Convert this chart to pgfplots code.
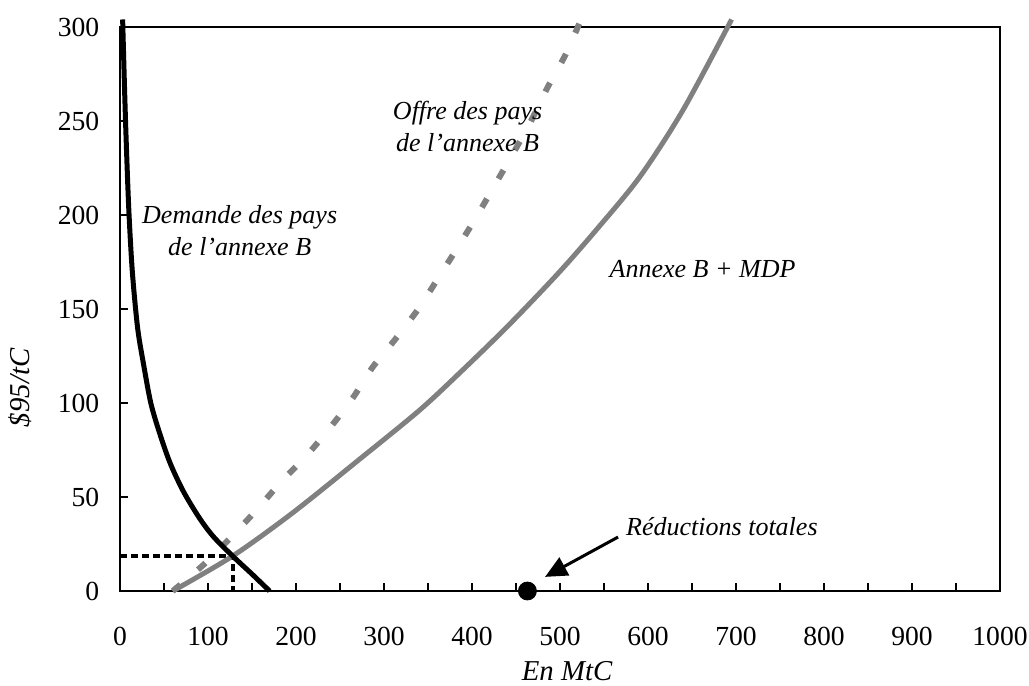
\documentclass[border=0pt]{standalone}
\usepackage{fontspec}
\setmainfont{Liberation Serif}
\usepackage{pgfplots}
\pgfplotsset{compat=1.18}
\usetikzlibrary{arrows.meta}
\definecolor{lgray}{RGB}{128,128,128}
\begin{document}
\fontsize{14}{17}\selectfont
\begin{tikzpicture}
\useasboundingbox (-60pt,-47.5pt) rectangle (454.5pt,295.5pt);
\begin{axis}[
  at={(0pt,0pt)}, anchor=south west,
  scale only axis, width=440pt, height=282pt,
  xmin=0, xmax=1000, ymin=0, ymax=300,
  clip=false,
  axis line style={line width=1.3pt},
  xtick={0,100,...,1000}, minor xtick={50,150,...,950},
  ytick={0,50,...,300},
  xtick pos=lower, ytick pos=left,
  tick align=inside, major tick length=4pt, minor tick length=4pt,
  tick style={line width=1.2pt, black},
  every minor tick/.style={line width=1.2pt, black},
  /pgf/number format/assume math mode=true,
  /pgf/number format/1000 sep={},
  tick label style={font=\fontsize{13.8}{17}\selectfont},
  xticklabel style={yshift=-13pt},
  yticklabel style={xshift=-5.5pt},
  xlabel={\itshape En MtC},
  xlabel style={at={([yshift=-40pt]rel axis cs:0.508,0)}, anchor=center, font=\fontsize{14.4}{17}\selectfont},
  ylabel={\itshape \$95/tC},
  ylabel style={at={([xshift=-50pt]rel axis cs:0,0.36)}, anchor=center, font=\fontsize{14.4}{17}\selectfont},
]
% dotted equilibrium lines
\addplot[black, line width=2pt, dash pattern=on 3.5pt off 2pt] coordinates {(0,18.6) (128,18.6) (128,0)};
% Offre des pays de l'annexe B (dashed)
\addplot[lgray, line width=3pt, dash pattern=on 5pt off 11.5pt, smooth, tension=0.4] coordinates {
(60,0) (95,14) (127,29) (155,43) (182,57.5) (212,72) (239,87) (265,103) (287,119)
(313,134) (339,150) (361,166) (384,183) (405,199) (426,216) (447,233) (466,249)
(486,268) (506,285) (523,303)};
% Annexe B + MDP (solid gray)
\addplot[lgray, line width=2.5pt, smooth, tension=0.5] coordinates {
(60,0) (128,18.6) (196,41.5) (272,70) (340,96) (386,116) (440,140.6) (497,168.5)
(542,192.5) (591,220.5) (640,256) (695,304)};
% Demande des pays de l'annexe B (black)
\addplot[black, line width=2.5pt, smooth, tension=0.5] coordinates {
(3,304) (5,270) (7,240) (10,203) (14,170) (20,140) (27,120) (35,100) (45,84)
(57,68) (72,53) (90,39) (106,29) (128,18.6) (150,9) (170,0)};
% total reductions point
\addplot[only marks, mark=*, mark size=4.5pt, black] coordinates {(463,0)};
\draw[line width=1.5pt, -{Triangle[length=11pt,width=10pt]}] (axis cs:566,28.7) -- (axis cs:483,7.5);
% labels
\node[font=\itshape\fontsize{13}{16}\selectfont, align=center] at (axis cs:136,191.5) {Demande des pays\\de l'annexe B};
\node[font=\itshape\fontsize{13}{16}\selectfont, align=center] at (axis cs:395,247) {Offre des pays\\de l'annexe B};
\node[font=\itshape\fontsize{13}{16}\selectfont] at (axis cs:662,171) {Annexe B + MDP};
\node[font=\itshape\fontsize{13}{16}\selectfont] at (axis cs:684,34) {Réductions totales};
\end{axis}
\end{tikzpicture}
\end{document}
